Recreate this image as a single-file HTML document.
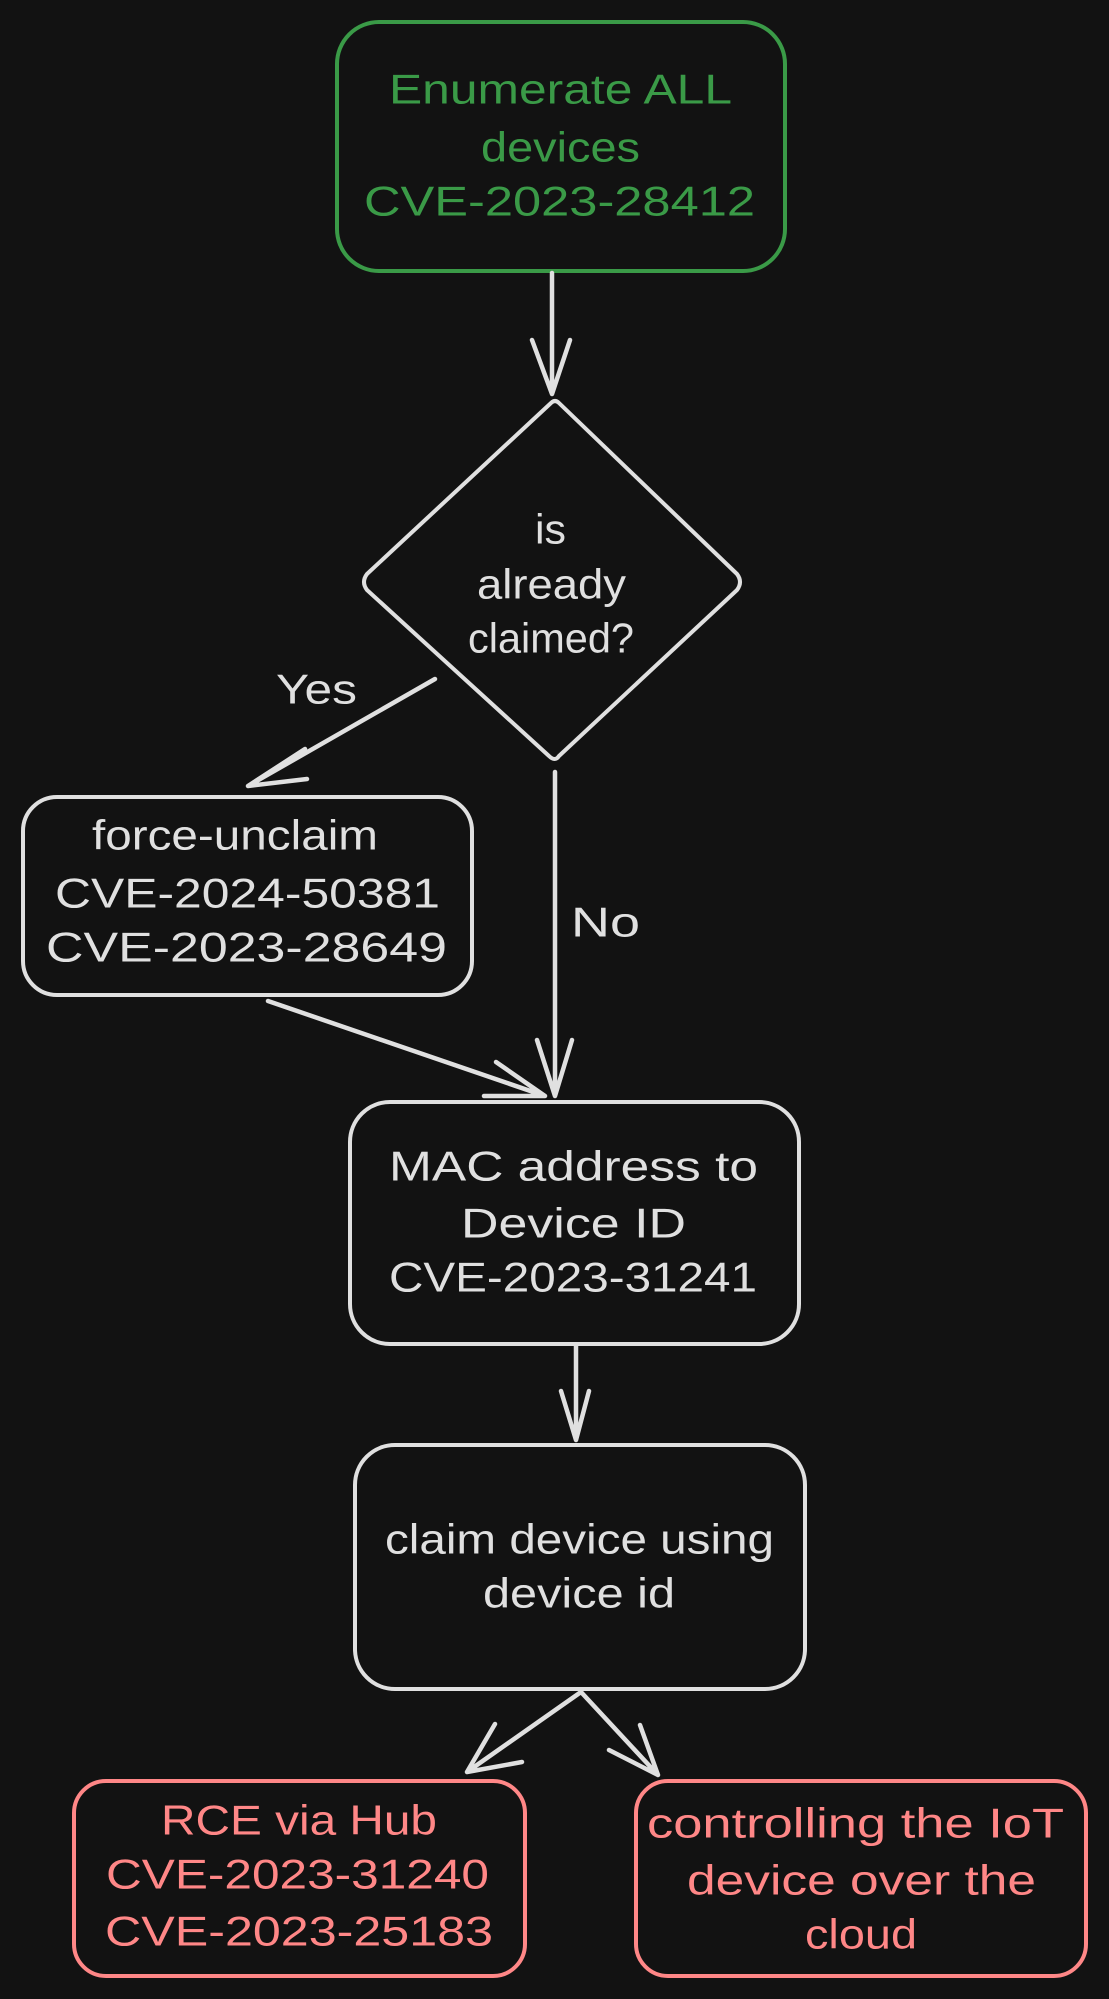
<!DOCTYPE html>
<html><head><meta charset="utf-8"><style>html,body{margin:0;padding:0;background:#121212}svg{display:block}</style></head><body>
<svg width="1109" height="1999" viewBox="0 0 1109 1999" xmlns="http://www.w3.org/2000/svg">
<rect width="1109" height="1999" fill="#121212"/>
<g fill="none" stroke-width="4" stroke-linecap="round" stroke-linejoin="round">
<rect x="337" y="22" width="448" height="249" rx="42" stroke="#3a9a47"/>
<path d="M551 403 Q555 399 559 403 L737 574 Q743 582 737 590 L559 756 Q555 762 549 756 L367 590 Q361 582 367 574 Z" stroke="#e0e0e0"/>
<rect x="23" y="797" width="449" height="198" rx="34" stroke="#e0e0e0"/>
<rect x="350" y="1102" width="449" height="242" rx="40" stroke="#e0e0e0"/>
<rect x="355" y="1445" width="450" height="244" rx="40" stroke="#e0e0e0"/>
<rect x="74" y="1781" width="451" height="195" rx="32" stroke="#ff8787"/>
<rect x="636" y="1781" width="450" height="195" rx="32" stroke="#ff8787"/>
<g stroke="#e0e0e0" stroke-width="4.5">
<path d="M552 273 L552 394 M532 340 L552 394 L570 340"/>
<path d="M435 679 L248 786 M305 749 L248 786 L307 779"/>
<path d="M555 772 L555 1096 M537 1040 L555 1096 L572 1040"/>
<path d="M268 1001 L545 1096 M496 1062 L545 1096 L484 1096"/>
<path d="M576 1346 L576 1440 M561 1391 L576 1440 L589 1391"/>
<path d="M581 1692 L467 1772 M495 1724 L467 1772 L522 1762"/>
<path d="M581 1692 L658 1775 M609 1750 L658 1775 L640 1725"/>
</g>
</g>
<g font-family="Liberation Sans, sans-serif" font-size="42" dominant-baseline="central">
<g fill="#3a9a47">
<text x="389" y="89" textLength="343" lengthAdjust="spacingAndGlyphs">Enumerate ALL</text>
<text x="481" y="147" textLength="159" lengthAdjust="spacingAndGlyphs">devices</text>
<text x="364" y="201" textLength="391" lengthAdjust="spacingAndGlyphs">CVE-2023-28412</text>
</g>
<g fill="#e0e0e0">
<text x="535" y="529" textLength="31" lengthAdjust="spacingAndGlyphs">is</text>
<text x="477" y="584" textLength="149" lengthAdjust="spacingAndGlyphs">already</text>
<text x="468" y="638" textLength="166" lengthAdjust="spacingAndGlyphs">claimed?</text>
<text x="276" y="689" textLength="81" lengthAdjust="spacingAndGlyphs">Yes</text>
<text x="571" y="922" textLength="69" lengthAdjust="spacingAndGlyphs">No</text>
<text x="92" y="835" textLength="286" lengthAdjust="spacingAndGlyphs">force-unclaim</text>
<text x="55" y="893" textLength="385" lengthAdjust="spacingAndGlyphs">CVE-2024-50381</text>
<text x="46" y="947" textLength="401" lengthAdjust="spacingAndGlyphs">CVE-2023-28649</text>
<text x="389" y="1166" textLength="369" lengthAdjust="spacingAndGlyphs">MAC address to</text>
<text x="461" y="1223" textLength="225" lengthAdjust="spacingAndGlyphs">Device ID</text>
<text x="389" y="1277" textLength="368" lengthAdjust="spacingAndGlyphs">CVE-2023-31241</text>
<text x="385" y="1539" textLength="389" lengthAdjust="spacingAndGlyphs">claim device using</text>
<text x="483" y="1593" textLength="192" lengthAdjust="spacingAndGlyphs">device id</text>
</g>
<g fill="#ff8787">
<text x="161" y="1820" textLength="276" lengthAdjust="spacingAndGlyphs">RCE via Hub</text>
<text x="106" y="1874" textLength="383" lengthAdjust="spacingAndGlyphs">CVE-2023-31240</text>
<text x="105" y="1931" textLength="388" lengthAdjust="spacingAndGlyphs">CVE-2023-25183</text>
<text x="647" y="1823" textLength="417" lengthAdjust="spacingAndGlyphs">controlling the IoT</text>
<text x="687" y="1880" textLength="349" lengthAdjust="spacingAndGlyphs">device over the</text>
<text x="805" y="1934" textLength="112" lengthAdjust="spacingAndGlyphs">cloud</text>
</g>
</g>
</svg>
</body></html>
